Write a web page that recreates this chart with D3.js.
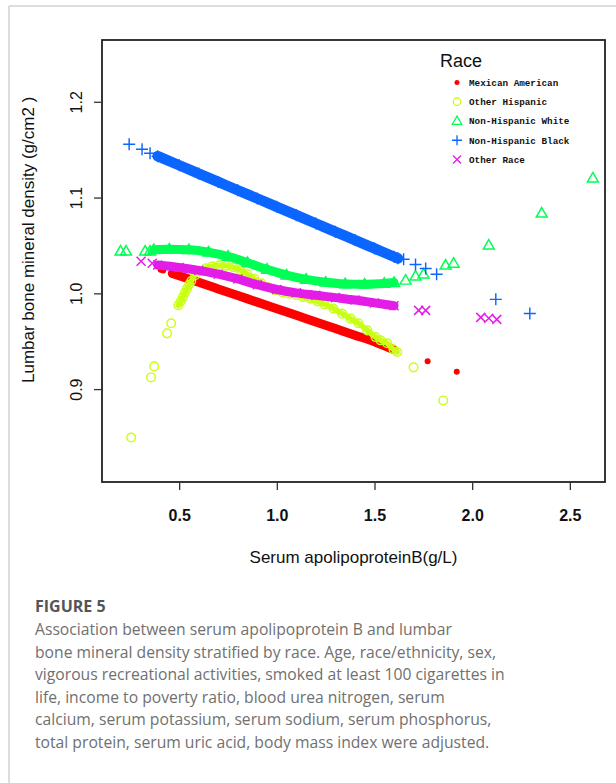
<!DOCTYPE html>
<html><head><meta charset="utf-8">
<script src="https://cdn.jsdelivr.net/npm/d3@7"></script>
<style>body{margin:0;background:#fff} svg{display:block}</style>
</head><body>
<svg id="c" width="616" height="783"></svg>
<script>
// ---------- data ----------
const xTicks = [0.5, 1.0, 1.5, 2.0, 2.5];
const yTicks = [0.9, 1.0, 1.1, 1.2];
const xTickLabels = ["0.5", "1.0", "1.5", "2.0", "2.5"];
const yTickLabels = ["0.9", "1.0", "1.1", "1.2"];
const raceNames = ["Mexican American", "Other Hispanic", "Non-Hispanic White", "Non-Hispanic Black", "Other Race"];
const raceColors = ["#ff0000", "#c8ff14", "#00ff55", "#0a66ff", "#e41ce8"];

// Mexican American (dense fitted band + isolated points)
const mexicanBand = [[0.465,1.0208],[0.5,1.0184],[0.6,1.0115],[0.7,1.0046],[0.8,0.9977],[0.9,0.9908],[1.0,0.9839],[1.1,0.977],[1.2,0.9701],[1.3,0.9632],[1.4,0.9563],[1.5,0.9494],[1.6,0.9410]];
const mexicanPoints = [[0.405,1.0245],[0.418,1.0238],[1.772,0.929],[1.921,0.918]];

// Other Hispanic
const otherHispanicBand = [[0.496,0.9875],[0.509,0.992],[0.519,0.996],[0.529,1.0007],[0.540,1.0049],[0.551,1.0091],[0.562,1.0129],[0.582,1.0188],[0.608,1.023],[0.638,1.0261],[0.669,1.0282],[0.705,1.0293],[0.741,1.0287],[0.777,1.0272],[0.813,1.024],[0.849,1.0199],[0.885,1.0152],[0.921,1.0104],[0.956,1.0063],[0.992,1.0031],[1.028,1.001],[1.064,0.9995],[1.100,0.998],[1.136,0.9963],[1.172,0.9943],[1.208,0.9916],[1.244,0.9885],[1.290,0.984],[1.334,0.9788],[1.377,0.9736],[1.418,0.9687],[1.463,0.9613],[1.505,0.9543],[1.531,0.9509],[1.565,0.9478],[1.597,0.9415],[1.616,0.9387]];
const otherHispanicPoints = [[0.254,0.8495],[0.356,0.9122],[0.372,0.9237],[0.438,0.9582],[0.459,0.9687],[1.700,0.9227],[1.852,0.8882]];

// Non-Hispanic White
const whiteBand = [[0.37,1.0455],[0.45,1.046],[0.55,1.0455],[0.65,1.043],[0.75,1.0385],[0.85,1.032],[0.95,1.025],[1.05,1.019],[1.15,1.0145],[1.25,1.0115],[1.35,1.0098],[1.45,1.0095],[1.55,1.0103],[1.6,1.0112]];
const whitePoints = [[0.200,1.0439],[0.228,1.0439],[0.326,1.0439],[0.351,1.0439],[1.659,1.0136],[1.710,1.0178],[1.751,1.0199],[1.864,1.0293],[1.905,1.0313],[2.085,1.0502],[2.356,1.0836],[2.618,1.1202]];

// Non-Hispanic Black
const blackBand = [[0.39,1.1432],[0.5,1.1337],[0.6,1.1250],[0.7,1.1163],[0.8,1.1076],[0.9,1.0990],[1.0,1.0903],[1.1,1.0816],[1.2,1.0729],[1.3,1.0642],[1.4,1.0556],[1.5,1.0469],[1.6,1.0382],[1.62,1.0365]];
const blackPoints = [[0.244,1.1557],[0.310,1.1505],[0.351,1.1463],[1.649,1.0355],[1.710,1.030],[1.762,1.026],[1.818,1.020],[2.121,0.9937],[2.295,0.979]];

// Other Race
const otherRaceBand = [[0.39,1.0295],[0.5,1.027],[0.6,1.024],[0.7,1.020],[0.8,1.015],[0.9,1.009],[1.0,1.004],[1.1,1.0005],[1.2,0.998],[1.3,0.9955],[1.4,0.993],[1.5,0.990],[1.6,0.987]];
const otherRacePoints = [[0.305,1.0334],[0.362,1.0313],[1.726,0.9822],[1.762,0.9822],[2.044,0.9749],[2.085,0.9739],[2.126,0.9728]];

const captionTitle = "FIGURE 5";
const captionLines = [
  "Association between serum apolipoprotein B and lumbar",
  "bone mineral density stratified by race. Age, race/ethnicity, sex,",
  "vigorous recreational activities, smoked at least 100 cigarettes in",
  "life, income to poverty ratio, blood urea nitrogen, serum",
  "calcium, serum potassium, serum sodium, serum phosphorus,",
  "total protein, serum uric acid, body mass index were adjusted."
];

// ---------- drawing ----------
const svg = d3.select("#c");
const box = {l:102, t:40, r:605, b:482};
const x = d3.scaleLinear().domain([0.105, 2.68]).range([box.l, box.r]);
const y = d3.scaleLinear().domain([0.803, 1.2645]).range([box.b, box.t]);

// page frame
svg.append("line").attr("x1",9).attr("y1",6).attr("x2",616).attr("y2",6).attr("stroke","#d2d2d2").attr("stroke-width",1.5);
svg.append("line").attr("x1",9).attr("y1",6).attr("x2",9).attr("y2",783).attr("stroke","#d2d2d2").attr("stroke-width",1.5);

// symbol types (R pch style)
const sym = {
  dot: {draw(c,s){const r=Math.sqrt(s)/2; c.moveTo(r,0); c.arc(0,0,r,0,2*Math.PI);}},
  circle: {draw(c,s){const r=Math.sqrt(s)/2; c.moveTo(r,0); c.arc(0,0,r,0,2*Math.PI);}},
  triangle: {draw(c,s){const a=Math.sqrt(s); const h=a*Math.sqrt(3)/2; c.moveTo(0,-h*0.6); c.lineTo(a/2,h*0.4); c.lineTo(-a/2,h*0.4); c.closePath();}},
  plus: {draw(c,s){const r=Math.sqrt(s)/2; c.moveTo(-r,0); c.lineTo(r,0); c.moveTo(0,-r); c.lineTo(0,r);}},
  cross: {draw(c,s){const r=Math.sqrt(s)/2; c.moveTo(-r,-r); c.lineTo(r,r); c.moveTo(-r,r); c.lineTo(r,-r);}}
};

const series = [
  {band: mexicanBand, pts: mexicanPoints, color: raceColors[0], type: sym.dot, size: 6, filled: true, bandW: 9},
  {band: otherHispanicBand, pts: otherHispanicPoints, color: raceColors[1], type: sym.circle, size: 8.6, filled: false, bandW: 5.5},
  {band: whiteBand, pts: whitePoints, color: raceColors[2], type: sym.triangle, size: 11, filled: false, bandW: 9},
  {band: blackBand, pts: blackPoints, color: raceColors[3], type: sym.plus, size: 12, filled: false, bandW: 10.5},
  {band: otherRaceBand, pts: otherRacePoints, color: raceColors[4], type: sym.cross, size: 9, filled: false, bandW: 9}
];

const line = d3.line().x(d => x(d[0])).y(d => y(d[1])).curve(d3.curveMonotoneX);
const plot = svg.append("g");
series.forEach(s => {
  const g = plot.append("g");
  g.append("path").attr("d", line(s.band)).attr("fill","none").attr("stroke", s.color)
    .attr("stroke-width", s.bandW).attr("stroke-linecap","round");
  const symbol = d3.symbol().type(s.type).size(s.size*s.size);
  g.selectAll("path.m").data(s.band.concat(s.pts)).join("path").attr("class","m")
    .attr("transform", d => `translate(${x(d[0])},${y(d[1])})`)
    .attr("d", symbol)
    .attr("fill", s.filled ? s.color : "none")
    .attr("stroke", s.color).attr("stroke-width", s.filled ? 0 : 1.45);
});

// box
svg.append("rect").attr("x",box.l).attr("y",box.t).attr("width",box.r-box.l).attr("height",box.b-box.t)
  .attr("fill","none").attr("stroke","#222").attr("stroke-width",1.8);

// axes
const xAxis = d3.axisBottom(x).tickValues(xTicks).tickFormat((d,i)=>xTickLabels[i]).tickSize(8).tickPadding(19);
const gx = svg.append("g").attr("transform",`translate(0,${box.b})`).call(xAxis);
gx.select(".domain").remove();
gx.selectAll("line").attr("stroke","#333").attr("stroke-width",1.3);
gx.selectAll("text").attr("font-family","'Liberation Sans', Arial, sans-serif").attr("font-size",16)
  .attr("font-weight","bold").attr("fill","#111").attr("dy",null).attr("y",39);

const yAxis = d3.axisLeft(y).tickValues(yTicks).tickFormat((d,i)=>yTickLabels[i]).tickSize(8);
const gy = svg.append("g").attr("transform",`translate(${box.l},0)`).call(yAxis);
gy.select(".domain").remove();
gy.selectAll("line").attr("stroke","#333").attr("stroke-width",1.3);
gy.selectAll("text").attr("font-family","'Liberation Sans', Arial, sans-serif").attr("font-size",16)
  .attr("fill","#111").attr("x",null).attr("dy",null).attr("text-anchor","middle")
  .attr("transform","translate(-20,0) rotate(-90)");

// axis titles
svg.append("text").attr("x",(box.l+box.r)/2).attr("y",563).attr("text-anchor","middle")
  .attr("font-family","'Liberation Sans', Arial, sans-serif").attr("font-size",17).attr("fill","#111")
  .text("Serum apolipoproteinB(g/L)");
svg.append("text").attr("transform","translate(34,383) rotate(-90)").attr("text-anchor","start")
  .attr("font-family","'Liberation Sans', Arial, sans-serif").attr("font-size",17).attr("fill","#111")
  .text("Lumbar bone mineral density (g/cm2 )");

// legend
const lg = svg.append("g");
lg.append("text").attr("x",440).attr("y",67).attr("font-family","'Liberation Sans', Arial, sans-serif")
  .attr("font-size",18).attr("fill","#111").text("Race");
const legY = d3.scalePoint().domain(raceNames).range([82.5,159.5]);
const legendSizes = [5, 7.5, 9.5, 10, 8];
raceNames.forEach((n,i) => {
  const s = series[i];
  lg.append("path").attr("transform",`translate(457,${legY(n)})`)
    .attr("d", d3.symbol().type(s.type).size(legendSizes[i]*legendSizes[i]))
    .attr("fill", s.filled ? s.color : "none").attr("stroke", s.color).attr("stroke-width", s.filled?0:1.3);
  lg.append("text").attr("x",469).attr("y",legY(n)).attr("dy","0.35em")
    .attr("font-family","'Liberation Mono', monospace").attr("font-weight","bold").attr("font-size",9.3)
    .attr("fill","#111").text(n);
});

// caption
svg.append("text").attr("x",35).attr("y",612).attr("font-family","'Open Sans', sans-serif")
  .attr("font-weight","bold").attr("font-size",16).attr("fill","#555").text(captionTitle);
const capY = d3.scaleLinear().domain([0,5]).range([635,748]);
svg.append("g").selectAll("text").data(captionLines).join("text")
  .attr("x",35).attr("y",(d,i)=>capY(i)).attr("font-family","'Open Sans', sans-serif")
  .attr("font-size",15.7).attr("fill","#707070").text(d=>d);
</script>
</body></html>
